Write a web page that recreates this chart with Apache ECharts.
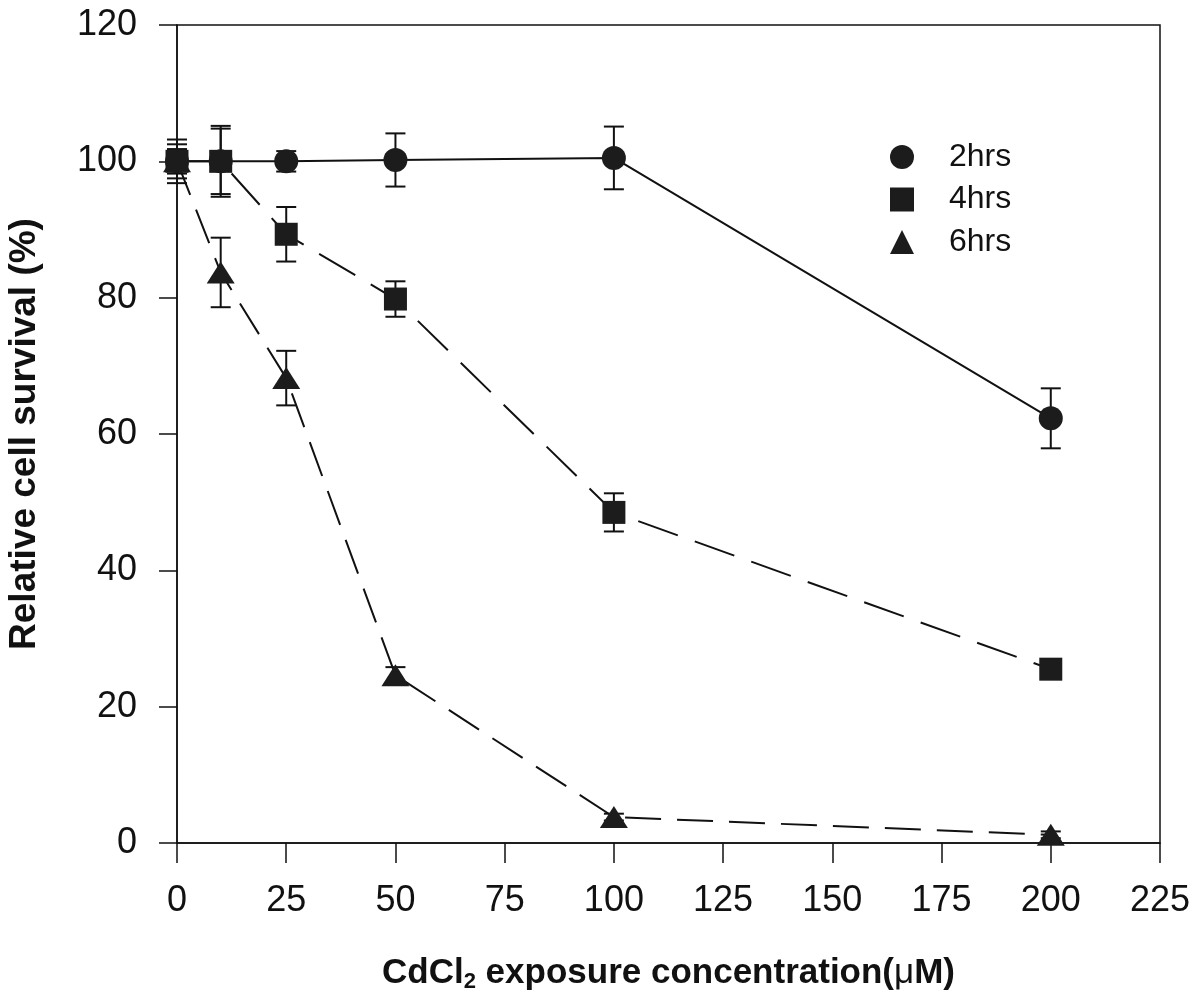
<!DOCTYPE html>
<html>
<head>
<meta charset="utf-8">
<script src="https://cdn.jsdelivr.net/npm/echarts@6/dist/echarts.min.js"></script>
<style>
  html, body { margin: 0; padding: 0; background: #fff; }
  #chart { width: 1201px; height: 998px; }
</style>
</head>
<body>
<div id="chart"></div>
<script>
// CdCl2 concentration (uM)
var conc = [0, 10, 25, 50, 100, 200];

// relative survival (%) and error bars
var hrs2 = [100, 100, 100, 100.2, 100.5, 62.3];
var err2 = [1.8, 4.8, 1.5, 3.9, 4.6, 4.4];
var hrs4 = [100, 100, 89.3, 79.8, 48.5, 25.5];
var err4 = [2.5, 5.2, 4.0, 2.6, 2.8, 1.0];
var hrs6 = [100, 83.7, 68.2, 24.6, 3.8, 1.2];
var err6 = [3.2, 5.1, 4.0, 1.2, 0.5, 0.5];

var xTicks = [0, 25, 50, 75, 100, 125, 150, 175, 200, 225];
var yTicks = [0, 20, 40, 60, 80, 100, 120];

var font = '"Liberation Sans", Arial, sans-serif';

function pairs(vals) {
  return conc.map(function (c, i) { return [c, vals[i]]; });
}
function errData(vals, errs) {
  return conc.map(function (c, i) { return [c, vals[i] - errs[i], vals[i] + errs[i]]; });
}

function errorBars(params, api) {
  var lo = api.coord([api.value(0), api.value(1)]);
  var hi = api.coord([api.value(0), api.value(2)]);
  var half = 10;
  var st = { stroke: '#111', lineWidth: 2 };
  return {
    type: 'group',
    children: [
      { type: 'line', shape: { x1: lo[0], y1: lo[1], x2: hi[0], y2: hi[1] }, style: st },
      { type: 'line', shape: { x1: lo[0] - half, y1: lo[1], x2: lo[0] + half, y2: lo[1] }, style: st },
      { type: 'line', shape: { x1: hi[0] - half, y1: hi[1], x2: hi[0] + half, y2: hi[1] }, style: st }
    ]
  };
}

var chart = echarts.init(document.getElementById('chart'));

var option = {
  backgroundColor: '#fff',
  animation: false,
  grid: {
    left: 177, right: 41, top: 25, bottom: 155,
    outerBoundsMode: 'none',
    show: true, borderColor: '#111', borderWidth: 1.5, backgroundColor: 'transparent'
  },
  legend: {
    orient: 'vertical',
    left: 885,
    top: 136,
    itemWidth: 24,
    itemHeight: 24,
    itemGap: 10.5,
    textStyle: { fontFamily: font, fontSize: 32, color: '#111', padding: [0, 0, 0, 30] },
    data: [
      { name: '2hrs', icon: 'circle' },
      { name: '4hrs', icon: 'rect' },
      { name: '6hrs', icon: 'triangle' }
    ]
  },
  xAxis: {
    type: 'value',
    min: 0, max: 225, interval: 25,
    name: '{a|CdCl}{sub|2}{a| exposure concentration(}{mu|μ}{a|M)}',
    nameLocation: 'middle',
    nameGap: 110,
    nameTextStyle: {
      rich: {
        a: { fontFamily: font, fontSize: 35, fontWeight: 'bold', color: '#111', lineHeight: 40 },
        mu: { fontFamily: font, fontSize: 35, color: '#111', lineHeight: 40 },
        sub: { fontFamily: font, fontSize: 22, fontWeight: 'bold', color: '#111', lineHeight: 22, padding: [18, 0, 0, 0], verticalAlign: 'bottom' }
      }
    },
    axisLine: { onZero: false, lineStyle: { color: '#111', width: 1.5 } },
    axisTick: { inside: false, length: 20, lineStyle: { color: '#111', width: 1.5 } },
    axisLabel: {
      margin: 40, fontFamily: font, fontSize: 36, color: '#111',
      customValues: xTicks
    },
    splitLine: { show: false }
  },
  yAxis: {
    type: 'value',
    min: 0, max: 120, interval: 20,
    name: 'Relative cell survival (%)',
    nameLocation: 'middle',
    nameGap: 134,
    nameTextStyle: { fontFamily: font, fontSize: 37, fontWeight: 'bold', color: '#111' },
    axisLine: { onZero: false, lineStyle: { color: '#111', width: 1.5 } },
    axisTick: { inside: false, length: 18, lineStyle: { color: '#111', width: 1.5 } },
    axisLabel: {
      margin: 40, fontFamily: font, fontSize: 36, color: '#111',
      customValues: yTicks
    },
    splitLine: { show: false }
  },
  series: [
    {
      type: 'custom', name: 'err2', renderItem: errorBars, data: errData(hrs2, err2),
      encode: { x: 0, y: [1, 2] }, z: 1, silent: true
    },
    {
      type: 'custom', name: 'err4', renderItem: errorBars, data: errData(hrs4, err4),
      encode: { x: 0, y: [1, 2] }, z: 1, silent: true
    },
    {
      type: 'custom', name: 'err6', renderItem: errorBars, data: errData(hrs6, err6),
      encode: { x: 0, y: [1, 2] }, z: 1, silent: true
    },
    {
      name: '2hrs', type: 'line', data: pairs(hrs2),
      symbol: 'circle', symbolSize: 24,
      itemStyle: { color: '#1c1c1c', borderWidth: 0 },
      lineStyle: { color: '#111', width: 2, type: 'solid' },
      z: 3
    },
    {
      name: '4hrs', type: 'line', data: pairs(hrs4),
      symbol: 'rect', symbolSize: 23,
      itemStyle: { color: '#1c1c1c', borderWidth: 0 },
      lineStyle: { color: '#111', width: 2, type: [42, 18] },
      z: 3
    },
    {
      name: '6hrs', type: 'line', data: pairs(hrs6),
      symbol: 'triangle', symbolSize: [28, 22],
      itemStyle: { color: '#1c1c1c', borderWidth: 0 },
      lineStyle: { color: '#111', width: 2, type: [36, 16] },
      z: 3
    }
  ]
};

chart.setOption(option);
</script>
</body>
</html>
